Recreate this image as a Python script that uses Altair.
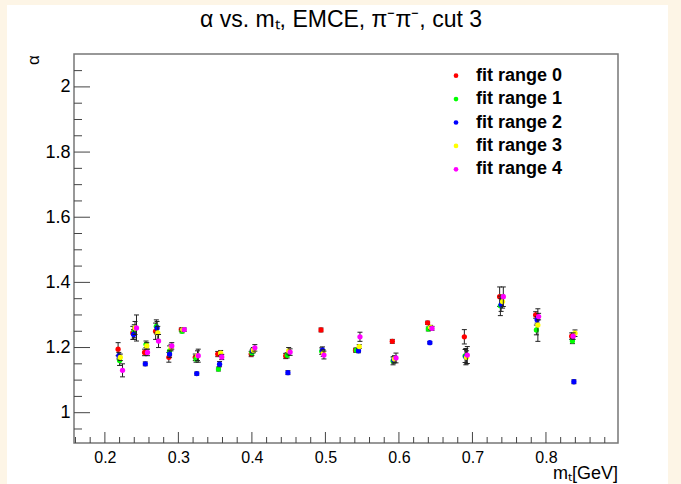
import altair as alt
import pandas as pd

series_names = ["fit range 0", "fit range 1", "fit range 2", "fit range 3", "fit range 4"]
series_colors = ["#ff0000", "#00ff00", "#0000ff", "#ffff00", "#ff00ff"]

# fit range 0 (red)
x0 = [0.218, 0.238, 0.254, 0.269, 0.287, 0.304, 0.323, 0.3535, 0.399, 0.446, 0.494, 0.541, 0.591, 0.639, 0.689, 0.737, 0.786, 0.835]
y0 = [1.195, 1.245, 1.185, 1.250, 1.170, 1.255, 1.170, 1.180, 1.180, 1.174, 1.254, 1.192, 1.219, 1.276, 1.233, 1.356, 1.300, 1.235]
e0 = [0.020, 0.020, 0.010, 0.025, 0.015, 0.005, 0.010, 0.008, 0.008, 0.008, 0.006, 0.006, 0.006, 0.005, 0.022, 0.030, 0.010, 0.010]
# fit range 1 (green)
x1 = [0.220, 0.240, 0.256, 0.270, 0.288, 0.305, 0.324, 0.3545, 0.400, 0.448, 0.495, 0.542, 0.592, 0.640, 0.690, 0.738, 0.787, 0.836]
y1 = [1.160, 1.250, 1.210, 1.265, 1.190, 1.250, 1.165, 1.134, 1.184, 1.176, 1.189, 1.192, 1.159, 1.257, 1.174, 1.328, 1.254, 1.220]
e1 = [0.015, 0.020, 0.010, 0.020, 0.015, 0.005, 0.010, 0.006, 0.008, 0.008, 0.010, 0.006, 0.012, 0.006, 0.020, 0.030, 0.015, 0.008]
# fit range 2 (blue)
x2 = [0.219, 0.239, 0.255, 0.271, 0.288, 0.306, 0.325, 0.356, 0.401, 0.449, 0.496, 0.545, 0.593, 0.642, 0.691, 0.739, 0.788, 0.838]
y2 = [1.175, 1.240, 1.150, 1.260, 1.180, 1.255, 1.120, 1.149, 1.190, 1.123, 1.192, 1.190, 1.162, 1.215, 1.172, 1.331, 1.285, 1.095]
e2 = [0.010, 0.015, 0.006, 0.020, 0.010, 0.005, 0.005, 0.008, 0.006, 0.006, 0.010, 0.006, 0.010, 0.004, 0.025, 0.020, 0.010, 0.006]
# fit range 3 (yellow)
x3 = [0.221, 0.241, 0.257, 0.272, 0.290, 0.306, 0.326, 0.3575, 0.402, 0.450, 0.497, 0.546, 0.594, 0.643, 0.692, 0.741, 0.789, 0.8395]
y3 = [1.170, 1.260, 1.205, 1.245, 1.200, 1.255, 1.175, 1.183, 1.192, 1.190, 1.183, 1.203, 1.165, 1.262, 1.170, 1.341, 1.269, 1.244]
e3 = [0.010, 0.020, 0.010, 0.020, 0.010, 0.005, 0.015, 0.008, 0.008, 0.010, 0.010, 0.006, 0.010, 0.006, 0.020, 0.020, 0.050, 0.010]
# fit range 4 (magenta)
x4 = [0.224, 0.243, 0.258, 0.273, 0.291, 0.308, 0.327, 0.359, 0.404, 0.452, 0.498, 0.547, 0.596, 0.645, 0.693, 0.742, 0.790, 0.837]
y4 = [1.130, 1.260, 1.185, 1.220, 1.205, 1.255, 1.175, 1.171, 1.199, 1.186, 1.177, 1.233, 1.168, 1.259, 1.177, 1.356, 1.295, 1.235]
e4 = [0.020, 0.040, 0.010, 0.020, 0.010, 0.005, 0.020, 0.008, 0.010, 0.010, 0.012, 0.014, 0.015, 0.006, 0.026, 0.030, 0.010, 0.010]

all_x = [x0, x1, x2, x3, x4]
all_y = [y0, y1, y2, y3, y4]
all_e = [e0, e1, e2, e3, e4]

y_major = [1.0, 1.2, 1.4, 1.6, 1.8, 2.0]
y_minor = [0.95, 1.05, 1.1, 1.15, 1.25, 1.3, 1.35, 1.45, 1.5, 1.55, 1.65, 1.7, 1.75, 1.85, 1.9, 1.95, 2.05]
x_major = [0.2, 0.3, 0.4, 0.5, 0.6, 0.7, 0.8]
x_minor = [0.16, 0.18, 0.22, 0.24, 0.26, 0.28, 0.32, 0.34, 0.36, 0.38, 0.42, 0.44, 0.46, 0.48,
           0.52, 0.54, 0.56, 0.58, 0.62, 0.64, 0.66, 0.68, 0.72, 0.74, 0.76, 0.78, 0.82, 0.84, 0.86, 0.88]

title_text = "α vs. mₜ, EMCE, π⁻π⁻, cut 3"
x_title = "mₜ[GeV]"
y_title = "α"

FONT = "Liberation Sans"
W, H = 544, 389
CREAM = "#fdf5e6"
TICK = "#444444"

xscale = alt.Scale(domain=[0.158, 0.898], nice=False, zero=False)
yscale = alt.Scale(domain=[0.907, 2.101], nice=False, zero=False)
xaxis = alt.Axis(values=x_major, format="~g", title=None, ticks=False, tickSize=0, domain=False,
                 grid=False, labelFont=FONT, labelFontSize=16, labelPadding=6, labelColor="black",
                 labelBaseline="top")
yaxis = alt.Axis(values=y_major, format="~g", title=None, ticks=False, tickSize=0, domain=False,
                 grid=False, labelFont=FONT, labelFontSize=18, labelPadding=4, labelColor="black")


def X(f):
    return alt.X(f + ":Q", scale=xscale, axis=xaxis)


def Y(f):
    return alt.Y(f + ":Q", scale=yscale, axis=yaxis)


one = pd.DataFrame({"a": [0]})
layers = []

# cream page border strips (outside the canvas)
for (a, b, c, d) in [(-74, -67, -54, 430), (-74, 607, -54, -49), (594, 607, -54, 430)]:
    layers.append(alt.Chart(one).mark_rect(color=CREAM).encode(
        x=alt.value(a), x2=alt.value(b), y=alt.value(c), y2=alt.value(d)))

# inward ticks
layers.append(alt.Chart(pd.DataFrame({"v": y_major})).mark_rule(color=TICK, strokeWidth=1).encode(
    y=Y("v"), x=alt.value(0), x2=alt.value(16)))
layers.append(alt.Chart(pd.DataFrame({"v": y_minor})).mark_rule(color=TICK, strokeWidth=1).encode(
    y=Y("v"), x=alt.value(0), x2=alt.value(8)))
layers.append(alt.Chart(pd.DataFrame({"v": x_major})).mark_rule(color=TICK, strokeWidth=1).encode(
    x=X("v"), y=alt.value(H), y2=alt.value(H - 11)))
layers.append(alt.Chart(pd.DataFrame({"v": x_minor})).mark_rule(color=TICK, strokeWidth=1).encode(
    x=X("v"), y=alt.value(H), y2=alt.value(H - 6)))

# data: error bars then markers, series by series
for i in range(5):
    df = pd.DataFrame({
        "x": all_x[i],
        "y": all_y[i],
        "lo": [v - e for v, e in zip(all_y[i], all_e[i])],
        "hi": [v + e for v, e in zip(all_y[i], all_e[i])],
    })
    base = alt.Chart(df)
    layers.append(base.mark_rule(color="#222222", strokeWidth=1).encode(x=X("x"), y=Y("lo"), y2="hi"))
    for f in ["lo", "hi"]:
        layers.append(base.mark_point(shape="M-1,0H1", size=25, filled=False, color="#222222",
                                      strokeWidth=1, opacity=1).encode(x=X("x"), y=Y(f)))
    layers.append(base.mark_circle(size=28, opacity=1, color=series_colors[i]).encode(x=X("x"), y=Y("y")))

# legend
for i, name in enumerate(series_names):
    yy = 21.7 + 23.4 * i
    layers.append(alt.Chart(one).mark_circle(size=22, opacity=1, color=series_colors[i]).encode(
        x=alt.value(382), y=alt.value(yy)))
    layers.append(alt.Chart(pd.DataFrame({"t": [name]})).mark_text(
        font=FONT, fontSize=18, fontWeight="bold", align="left", baseline="middle", color="black").encode(
        x=alt.value(402), y=alt.value(yy), text="t:N"))

# titles
layers.append(alt.Chart(pd.DataFrame({"t": [title_text]})).mark_text(
    font=FONT, fontSize=23, align="center", baseline="middle", color="black").encode(
    x=alt.value(267), y=alt.value(-34), text="t:N"))
layers.append(alt.Chart(pd.DataFrame({"t": [x_title]})).mark_text(
    font=FONT, fontSize=18, align="right", baseline="alphabetic", color="black").encode(
    x=alt.value(544), y=alt.value(425), text="t:N"))
layers.append(alt.Chart(pd.DataFrame({"t": [y_title]})).mark_text(
    font=FONT, fontSize=17, align="center", baseline="middle", angle=270, color="black").encode(
    x=alt.value(-40), y=alt.value(6), text="t:N"))

chart = alt.layer(*layers).properties(
    width=W, height=H,
    padding={"left": 74, "top": 54, "right": 63, "bottom": 41},
    autosize=alt.AutoSizeParams(type="none"),
    background="white",
).configure_view(stroke="#777777", strokeWidth=1.5)

chart.save("out.html", embed_options={"renderer": "svg", "actions": False})
